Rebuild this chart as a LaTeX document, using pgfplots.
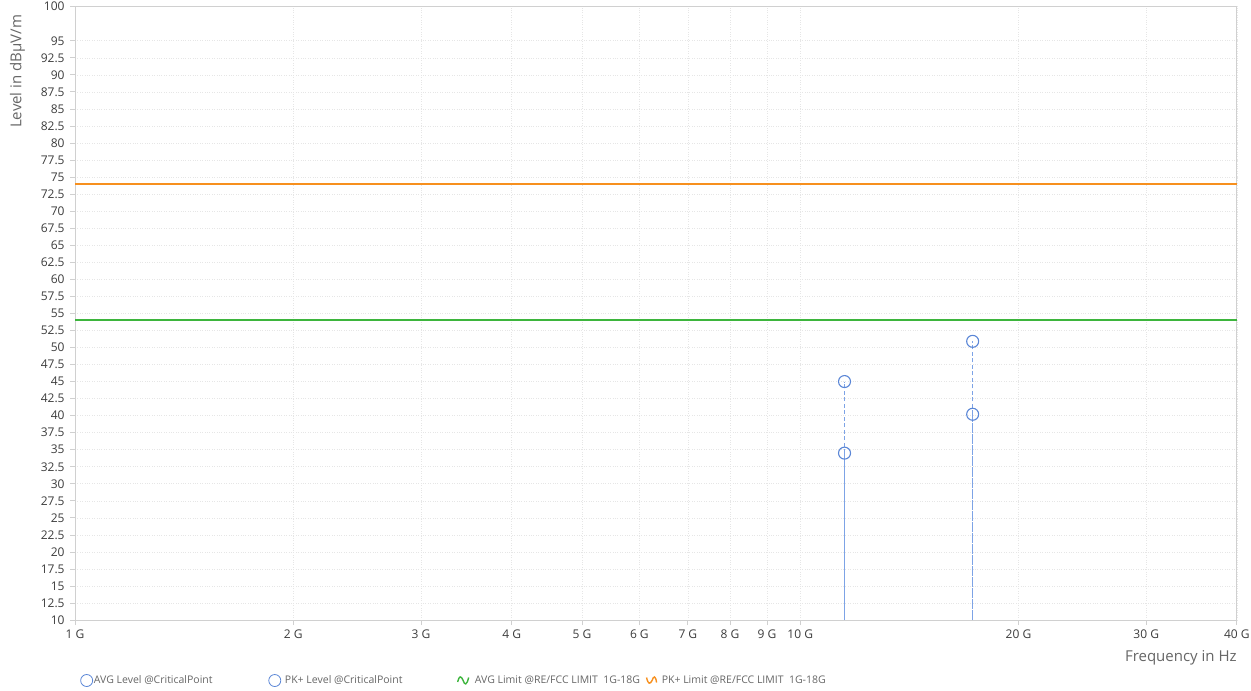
\documentclass[border=0pt]{standalone}
\usepackage{fontspec}
\setmainfont{Open Sans}
\usepackage{pgfplots}
\usepackage{pgfplotstable}
\pgfplotsset{compat=1.18}
\definecolor{txt}{HTML}{3C3C3C}
\definecolor{lbl}{HTML}{666666}
\definecolor{bluemk}{HTML}{5A86D6}
\definecolor{bluestem}{HTML}{7DA3E6}
\definecolor{orangeL}{HTML}{F7901E}
\definecolor{greenL}{HTML}{3DB53D}
\definecolor{gridc}{HTML}{E6E6E6}
\definecolor{axc}{HTML}{D0D0D0}

\pgfplotstableread{
f        avg   pk
1.151e10 34.5  45.0
1.729e10 40.2  50.9
}\crit

\begin{document}
\begin{tikzpicture}
\path[use as bounding box] (-75pt,-70.7pt) rectangle (1176pt,620.1pt);
\begin{axis}[
  at={(0pt,0pt)}, anchor=south west,
  scale only axis,
  width=1161.7pt, height=613.4pt,
  xmode=log,
  xmin=1e9, xmax=4e10,
  ymin=10, ymax=100,
  xtick={1e9,2e9,3e9,4e9,5e9,6e9,7e9,8e9,9e9,1e10,2e10,3e10,4e10},
  xticklabels={1 G,2 G,3 G,4 G,5 G,6 G,7 G,8 G,9 G,10 G,20 G,30 G,40 G},
  minor xtick={},
  ytick={10,12.5,15,17.5,20,22.5,25,27.5,30,32.5,35,37.5,40,42.5,45,47.5,50,52.5,55,57.5,60,62.5,65,67.5,70,72.5,75,77.5,80,82.5,85,87.5,90,92.5,95,100},
  /pgf/number format/assume math mode=true,
  /pgf/number format/fixed,
  tick align=outside,
  major tick length=5pt,
  tick style={axc, line width=0.8pt},
  xtick pos=bottom, ytick pos=left,
  grid=major,
  major grid style={gridc, dotted, line width=0.6pt},
  axis line style={axc, line width=0.8pt},
  ticklabel style={font=\fontsize{12}{14}\selectfont, text=txt},
  yticklabel style={xshift=-2pt},
  xticklabel style={yshift=-1pt},
  xlabel={Frequency in Hz},
  xlabel style={at={(axis description cs:1,-0.049)}, anchor=north east, inner sep=0pt, font=\fontsize{15}{17}\selectfont, text=lbl},
  ylabel={Level in dBµV/m},
  ylabel style={at={(axis description cs:-0.043,0.987)}, anchor=south east, inner sep=0pt, font=\fontsize{15}{17}\selectfont, text=lbl},
  clip=true,
  legend columns=4,
  legend cell align=left,
  legend style={
    at={(axis description cs:0.0043,-0.0985)}, anchor=west,
    draw=none, fill=none, inner sep=0pt,
    font=\fontsize{10.5}{12}\selectfont, text=lbl,
    nodes={inner sep=0pt},
    column sep=0pt,
  },
]
% limit lines
\addplot[orangeL, line width=1.6pt, forget plot] coordinates {(1e9,74) (4e10,74)};
\addplot[greenL, line width=1.6pt, forget plot] coordinates {(1e9,54) (4e10,54)};
% stems
\addplot[bluestem, line width=1pt, forget plot] coordinates {(1.151e10,10) (1.151e10,34.5)};
\addplot[bluestem, line width=1pt, dash pattern=on 4pt off 2.5pt, forget plot] coordinates {(1.151e10,34.5) (1.151e10,45.0)};
\addplot[bluestem, line width=1pt, dash pattern=on 10pt off 1pt, forget plot] coordinates {(1.729e10,10) (1.729e10,40.2)};
\addplot[bluestem, line width=1pt, dash pattern=on 4pt off 2.5pt, forget plot] coordinates {(1.729e10,40.2) (1.729e10,50.9)};
% markers
\addplot[only marks, mark=o, mark size=6pt, bluemk, mark options={line width=1.1pt}, forget plot] table[x=f, y=avg] {\crit};
\addplot[only marks, mark=o, mark size=6pt, bluemk, mark options={line width=1.1pt}, forget plot] table[x=f, y=pk] {\crit};
% legend
\addlegendimage{legend image code/.code={\draw[bluemk, line width=0.8pt] (6pt,0pt) circle[radius=6pt]; \path (0pt,0pt) (13pt,0pt);}}
\addlegendentry{\makebox[174.5pt][l]{AVG Level @CriticalPoint}}
\addlegendimage{legend image code/.code={\draw[bluemk, line width=0.8pt] (6pt,0pt) circle[radius=6pt]; \path (0pt,0pt) (16pt,0pt);}}
\addlegendentry{\makebox[172pt][l]{PK+ Level @CriticalPoint}}
\addlegendimage{legend image code/.code={\draw[greenL, line width=1.4pt] (0pt,-1.5pt) .. controls (1.5pt,5pt) and (3.5pt,5pt) .. (5.5pt,0pt) .. controls (7pt,-5pt) and (9pt,-5pt) .. (11pt,3pt); \path (0pt,0pt) (17pt,0pt);}}
\addlegendentry{\makebox[171pt][l]{AVG Limit @RE/FCC LIMIT\ \ 1G-18G}}
\addlegendimage{legend image code/.code={\draw[orangeL, line width=1.4pt] (0pt,3pt) .. controls (1.5pt,-4pt) and (3.5pt,-4pt) .. (5.5pt,0pt) .. controls (7pt,5pt) and (9pt,5pt) .. (10pt,-2pt); \path (0pt,0pt) (15pt,0pt);}}
\addlegendentry{PK+ Limit @RE/FCC LIMIT\ \ 1G-18G}
\end{axis}
\end{tikzpicture}
\end{document}
